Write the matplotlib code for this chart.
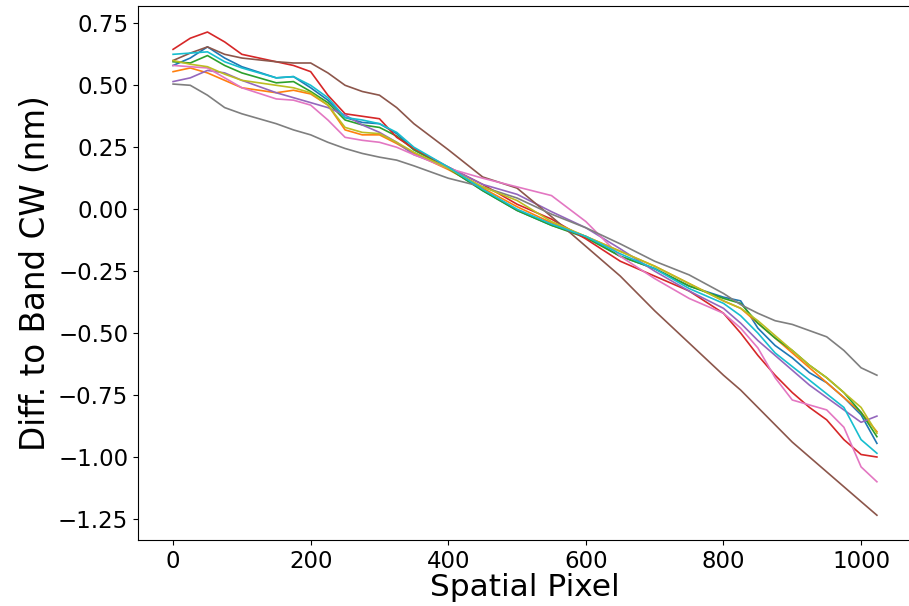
import matplotlib
matplotlib.use('Agg')
import matplotlib.pyplot as plt
import numpy as np

pixels = np.array([0, 25, 50, 75, 100, 150, 175, 200, 225, 250, 275, 300, 325, 350, 400, 450,
                   500, 550, 600, 650, 700, 750, 800, 825, 850, 875, 900, 925, 950, 975, 1000, 1023])

# difference to band centre wavelength (nm), one curve per band
band_blue = np.array([0.58, 0.61, 0.655, 0.61, 0.575, 0.53, 0.535, 0.49, 0.44, 0.37, 0.35, 0.345, 0.305, 0.24,
                      0.165, 0.075, -0.005, -0.065, -0.11, -0.19, -0.24, -0.31, -0.355, -0.37, -0.48, -0.55,
                      -0.60, -0.66, -0.70, -0.76, -0.83, -0.945])
band_orange = np.array([0.555, 0.57, 0.55, 0.52, 0.49, 0.47, 0.48, 0.465, 0.42, 0.32, 0.30, 0.30, 0.265, 0.225,
                        0.16, 0.085, 0.01, -0.055, -0.11, -0.17, -0.23, -0.30, -0.37, -0.40, -0.46, -0.52,
                        -0.58, -0.64, -0.70, -0.76, -0.82, -0.898])
band_green = np.array([0.595, 0.59, 0.62, 0.58, 0.55, 0.51, 0.515, 0.475, 0.43, 0.36, 0.34, 0.33, 0.295, 0.24,
                       0.165, 0.075, -0.005, -0.065, -0.115, -0.19, -0.24, -0.31, -0.36, -0.38, -0.46, -0.52,
                       -0.57, -0.63, -0.68, -0.74, -0.82, -0.918])
band_red = np.array([0.645, 0.69, 0.715, 0.675, 0.625, 0.595, 0.58, 0.555, 0.46, 0.385, 0.375, 0.365, 0.29, 0.245,
                     0.17, 0.10, 0.02, -0.04, -0.12, -0.21, -0.27, -0.33, -0.42, -0.50, -0.59, -0.67,
                     -0.74, -0.80, -0.85, -0.93, -0.99, -1.0])
band_purple = np.array([0.515, 0.53, 0.56, 0.55, 0.52, 0.47, 0.45, 0.43, 0.41, 0.38, 0.34, 0.31, 0.27, 0.22,
                        0.17, 0.10, 0.06, -0.01, -0.075, -0.16, -0.25, -0.33, -0.40, -0.46, -0.53, -0.59,
                        -0.65, -0.71, -0.76, -0.81, -0.86, -0.835])
band_brown = np.array([0.60, 0.63, 0.655, 0.625, 0.61, 0.595, 0.59, 0.59, 0.55, 0.50, 0.475, 0.46, 0.41, 0.345,
                       0.24, 0.13, 0.085, -0.03, -0.15, -0.27, -0.41, -0.54, -0.67, -0.73, -0.80, -0.87,
                       -0.94, -1.0, -1.06, -1.12, -1.18, -1.235])
band_pink = np.array([0.58, 0.575, 0.57, 0.53, 0.49, 0.445, 0.44, 0.42, 0.36, 0.29, 0.278, 0.27, 0.25, 0.22,
                      0.165, 0.125, 0.09, 0.055, -0.05, -0.19, -0.28, -0.36, -0.42, -0.48, -0.56, -0.68,
                      -0.77, -0.79, -0.81, -0.88, -1.04, -1.10])
band_gray = np.array([0.505, 0.50, 0.46, 0.41, 0.385, 0.345, 0.32, 0.30, 0.27, 0.245, 0.225, 0.21, 0.198, 0.175,
                      0.125, 0.09, 0.045, -0.02, -0.075, -0.14, -0.21, -0.265, -0.34, -0.385, -0.42, -0.45,
                      -0.465, -0.49, -0.515, -0.57, -0.64, -0.67])
band_olive = np.array([0.60, 0.585, 0.575, 0.545, 0.52, 0.50, 0.49, 0.47, 0.42, 0.33, 0.31, 0.305, 0.27, 0.23,
                       0.165, 0.09, 0.035, -0.05, -0.11, -0.17, -0.23, -0.30, -0.37, -0.40, -0.45, -0.51,
                       -0.57, -0.63, -0.68, -0.74, -0.80, -0.904])
band_cyan = np.array([0.625, 0.63, 0.635, 0.595, 0.57, 0.53, 0.535, 0.50, 0.45, 0.37, 0.36, 0.345, 0.31, 0.25,
                      0.17, 0.08, 0.0, -0.06, -0.11, -0.18, -0.24, -0.32, -0.38, -0.43, -0.50, -0.58,
                      -0.635, -0.69, -0.745, -0.80, -0.93, -0.985])

bands = [band_blue, band_orange, band_green, band_red, band_purple,
         band_brown, band_pink, band_gray, band_olive, band_cyan]

fig = plt.figure(figsize=(9.09, 6.06), dpi=100)
ax = fig.add_axes([0.1518, 0.1089, 0.8515, 0.8812])

for b in bands:
    ax.plot(pixels, b, linewidth=1.2)

ax.set_xlim(-51, 1074)
ax.set_ylim(-1.335, 0.82)
ax.set_yticks([0.75, 0.5, 0.25, 0.0, -0.25, -0.5, -0.75, -1.0, -1.25])
ax.tick_params(labelsize=16.5)
ax.set_xlabel('Spatial Pixel', fontsize=22.5, labelpad=0)
ax.set_ylabel('Diff. to Band CW (nm)', fontsize=23.5)

fig.savefig('out.png', dpi=100)
